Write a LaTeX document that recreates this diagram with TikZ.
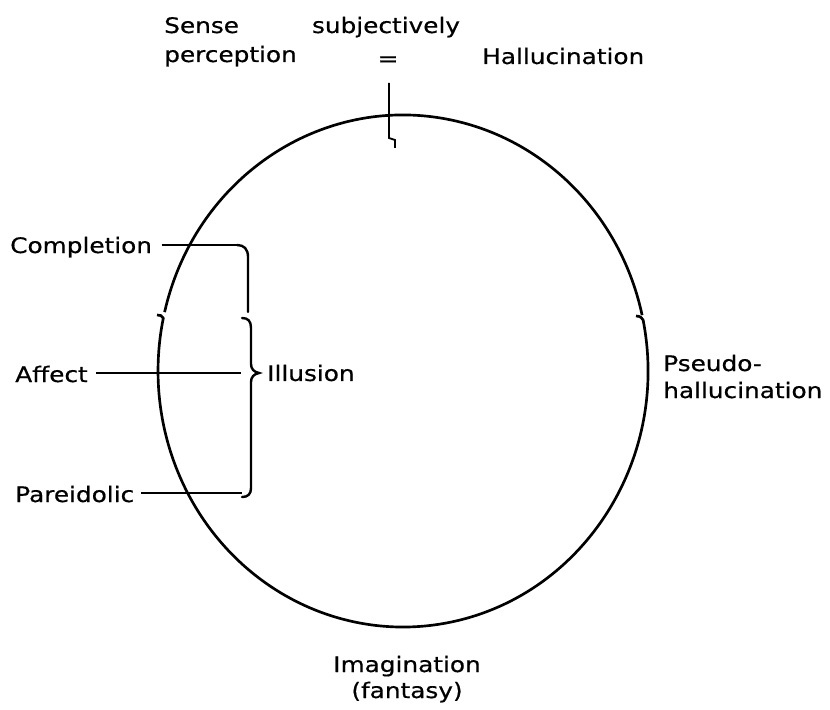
\documentclass[tikz,border=0pt]{standalone}
\usepackage{fontspec}
\setmainfont{DejaVu Sans}[FakeStretch=1.16,FakeBold=0.6]

\tikzset{
  lbl/.style={font=\fontsize{16}{18}\selectfont, inner sep=0pt},
  ring/.style={line width=2pt},
  lead/.style={line width=1.4pt},
  brace/.style={line width=1.8pt, line cap=round}
}

\begin{document}
\begin{tikzpicture}[x=0.75pt,y=0.75pt,yscale=-1,xscale=1]
\useasboundingbox (0,0) rectangle (830,709);

%Shape: Ellipse, upper part
\draw [ring] (164.6,312.1) arc [start angle=193.3, end angle=347.4, x radius=245, y radius=256];
%Shape: Ellipse, lower part with small hooks
\draw [ring] (636,316) .. controls (640,316) and (642.5,318) .. (643.1,320.0)
  arc [start angle=-11.5, end angle=191.9, x radius=245, y radius=256]
  .. controls (162.5,315.5) and (160,315) .. (157,315);

% Text Node
\node [lbl, anchor=base west] (sense) at (164,33) {Sense};
% Text Node
\node [lbl, anchor=base west] (perc) at (164,62) {perception};
% Text Node
\node [lbl, anchor=base] (subj) at (386,33) {subjectively};
% Text Node
\node [lbl, anchor=base] (eq) at (388,66) {=};
% Text Node
\node [lbl, anchor=base west] (hall) at (482,64) {Hallucination};

%Straight Lines: top tick
\coordinate (tk) at (389,83);
\coordinate (tkend) at (395,148);
\draw [lead] (tk) -- (389,138) -- (395,140) -- (tkend);

% Text Node
\node [lbl, anchor=base west] (compl) at (10,253) {Completion};
% Text Node
\node [lbl, anchor=base west] (aff) at (15,382) {Affect};
% Text Node
\node [lbl, anchor=base west] (par) at (15,502) {Pareidolic};

%Brace ends
\coordinate (c1) at (237,245);
\coordinate (a1) at (241,373);
\coordinate (p1) at (242,493);
\coordinate (tip) at (259,373);

%Straight Lines
\draw [lead] ([xshift=7pt]compl.east |- c1) -- (c1);
\draw [lead] ([xshift=6pt]aff.east |- a1) -- (a1);
\draw [lead] ([xshift=5pt]par.east |- p1) -- (p1);

%Shape: Brace
\draw [brace] (c1) .. controls (244,245) and (248,249) .. (248,257) -- (248,312);
\draw [brace] (242,318) .. controls (248,318) and (251,321) .. (251,328) -- (251,364)
  .. controls (251,369) and (254,372) .. (tip)
  .. controls (254,374) and (251,377) .. (251,382) -- (251,488)
  .. controls (251,494) and (248,497) .. (242,497);

% Text Node
\node [lbl, anchor=west] (ill) at ([xshift=6pt]tip) {Illusion};

% Text Node
\node [lbl, anchor=base west] (pseudo) at (663,371) {Pseudo-};
% Text Node
\node [lbl, anchor=base west] (phall) at (663,398) {hallucination};

% Text Node
\node [lbl, anchor=base] (imag) at (407,672) {Imagination};
% Text Node
\node [lbl, anchor=base] (fant) at (407,698) {(fantasy)};

\end{tikzpicture}
\end{document}
